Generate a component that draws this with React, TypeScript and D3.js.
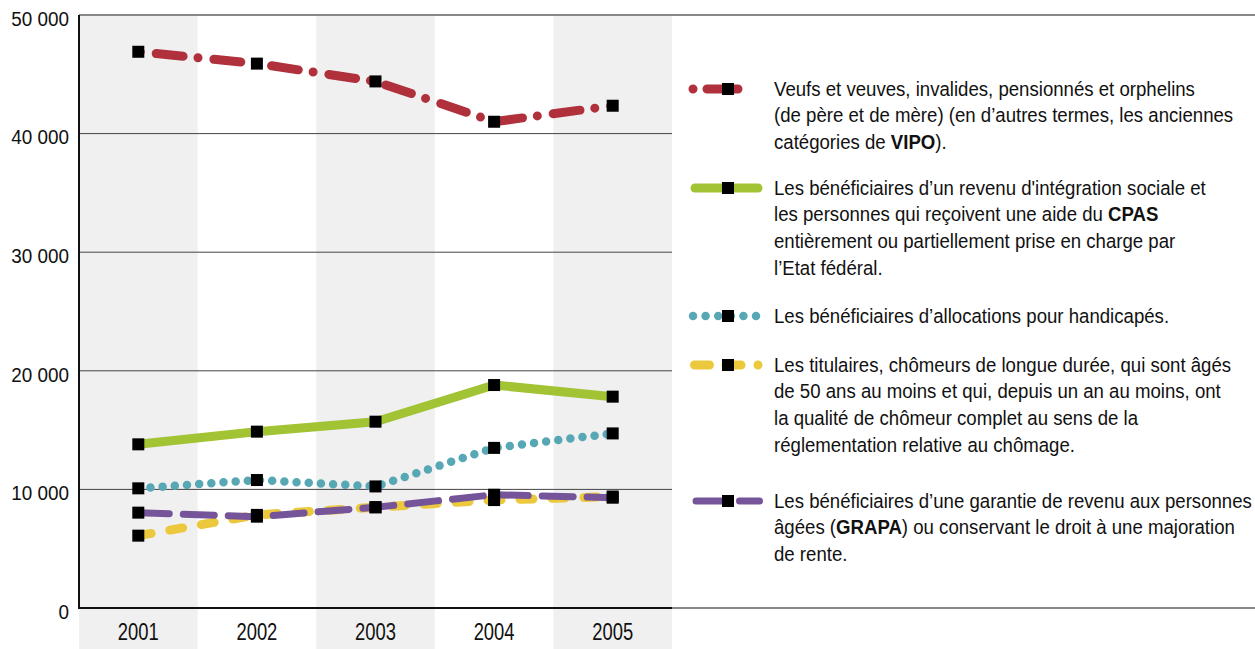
import React from 'react';
import * as d3 from 'd3';

const years = ['2001', '2002', '2003', '2004', '2005'];
const vipo = [46900, 45900, 44400, 41000, 42350];
const revenu = [13800, 14870, 15710, 18800, 17820];
const handicapes = [10090, 10790, 10250, 13500, 14720];
const chomeurs = [6100, 7850, 8500, 9100, 9400];
const grapa = [8040, 7700, 8490, 9550, 9300];
const yTicks = [0, 10000, 20000, 30000, 40000, 50000];

// legend lines, a <b> part is written in bold
const legendVipo = ['Veufs et veuves, invalides, pensionnés et orphelins', '(de père et de mère) (en d’autres termes, les anciennes', 'catégories de <b>VIPO</b>).'];
const legendRevenu = ['Les bénéficiaires d’un revenu d\'intégration sociale et', 'les personnes qui reçoivent une aide du <b>CPAS</b>', 'entièrement ou partiellement prise en charge par', 'l’Etat fédéral.'];
const legendHandicapes = ['Les bénéficiaires d’allocations pour handicapés.'];
const legendChomeurs = ['Les titulaires, chômeurs de longue durée, qui sont âgés', 'de 50 ans au moins et qui, depuis un an au moins, ont', 'la qualité de chômeur complet au sens de la', 'réglementation relative au chômage.'];
const legendGrapa = ['Les bénéficiaires d’une garantie de revenu aux personnes', 'âgées (<b>GRAPA</b>) ou conservant le droit à une majoration', 'de rente.'];

const W = 1255;
const H = 649;
const left = 79;
const right = 672;
const top = 15;
const bottom = 608;
const font = '"Liberation Sans", Arial, sans-serif';

const series = [
  { values: vipo, color: '#b0303b', width: 9, dash: '27 15 0 16', offset: 40, legend: legendVipo, ly: 89,
    lx1: 693, lx2: 753, ldash: '0 14 31 15 0 100' },
  { values: revenu, color: '#a1c334', width: 9, dash: null, offset: 0, legend: legendRevenu, ly: 188,
    lx1: 695, lx2: 758, ldash: null },
  { values: handicapes, color: '#57a8b4', width: 8.5, dash: '0 12.2', offset: 0, legend: legendHandicapes, ly: 316,
    lx1: 693, lx2: 757, ldash: '0 12.6' },
  { values: chomeurs, color: '#ebc83c', width: 9, dash: '13 19', offset: 0, legend: legendChomeurs, ly: 365,
    lx1: 694.5, lx2: 758.5, ldash: '15 16.5 15 17 0 100' },
  { values: grapa, color: '#76549a', width: 7, dash: '31 14', offset: 0, legend: legendGrapa, ly: 501,
    lx1: 696, lx2: 759.5, ldash: '27 16.5 20 100' },
];

function RichLine({ text }: { text: string }) {
  const parts = text.split(/(<b>.*?<\/b>)/);
  return (
    <>
      {parts.map((p, i) =>
        p.startsWith('<b>') ? (
          <tspan key={i} fontWeight="bold">{p.replace(/<\/?b>/g, '')}</tspan>
        ) : (
          <tspan key={i}>{p}</tspan>
        )
      )}
    </>
  );
}

export default function App() {
  const x = d3.scaleBand().domain(years).range([left, right]);
  const y = d3.scaleLinear().domain([0, 50000]).range([bottom, top]);
  const cx = (yr: string) => (x(yr) as number) + x.bandwidth() / 2;
  const line = d3
    .line<number>()
    .x((_, i) => cx(years[i]))
    .y((d) => y(d));

  return (
    <svg width={W} height={H} style={{ position: 'fixed', left: 0, top: 0, display: 'block', background: '#fff' }}>
      {/* shaded columns */}
      {years.map((yr, i) =>
        i % 2 === 0 ? (
          <rect key={yr} x={x(yr)} y={top} width={x.bandwidth()} height={H - top} fill="#f0f0f0" />
        ) : null
      )}
      {/* grid */}
      {yTicks.slice(1, -1).map((t) => (
        <line key={t} x1={left} x2={right} y1={y(t)} y2={y(t)} stroke="#444" strokeWidth={1} />
      ))}
      <line x1={left} x2={W} y1={top} y2={top} stroke="#888" strokeWidth={2} />
      <line x1={right} x2={W} y1={bottom} y2={bottom} stroke="#888" strokeWidth={2} />
      <line x1={left} x2={right} y1={bottom} y2={bottom} stroke="#111" strokeWidth={2} />
      <line x1={left} x2={left} y1={top} y2={bottom + 1} stroke="#111" strokeWidth={2} />

      {/* y labels */}
      {yTicks.map((t) => (
        <text key={t} transform={`translate(69,${y(t) + 3.5}) scale(0.9,1)`} dy="0.35em" textAnchor="end"
          fontFamily={font} fontSize={21} fill="#111">
          {d3.format(',')(t).replace(/,/g, ' ')}
        </text>
      ))}
      {/* x labels */}
      {years.map((yr) => (
        <text key={yr} transform={`translate(${cx(yr)},632) scale(0.8,1)`} dy="0.35em" textAnchor="middle"
          fontFamily={font} fontSize={23} fill="#111">
          {yr}
        </text>
      ))}

      {/* lines */}
      {series.map((s, i) => (
        <path key={i} d={line(s.values) || ''} fill="none" stroke={s.color} strokeWidth={s.width}
          strokeLinecap="round" strokeLinejoin="round"
          strokeDasharray={s.dash || undefined} strokeDashoffset={s.offset} />
      ))}
      {/* markers */}
      {series.map((s, i) =>
        s.values.map((v, j) => (
          <rect key={i + '-' + j} x={cx(years[j]) - 6} y={y(v) - 6} width={12} height={12} fill="#000" />
        ))
      )}

      {/* legend */}
      {series.map((s, i) => (
        <g key={'l' + i}>
          <line x1={s.lx1} x2={s.lx2} y1={s.ly} y2={s.ly} stroke={s.color} strokeWidth={s.width}
            strokeLinecap="round" strokeDasharray={s.ldash || undefined} />
          <rect x={722} y={s.ly - 6} width={12} height={12} fill="#000" />
          <g transform="translate(774,0) scale(0.955,1)">
            {s.legend.map((t, k) => (
              <text key={k} x={0} y={s.ly + k * 26.6} dy="0.35em" fontFamily={font} fontSize={19.5} fill="#111">
                <RichLine text={t} />
              </text>
            ))}
          </g>
        </g>
      ))}
    </svg>
  );
}
